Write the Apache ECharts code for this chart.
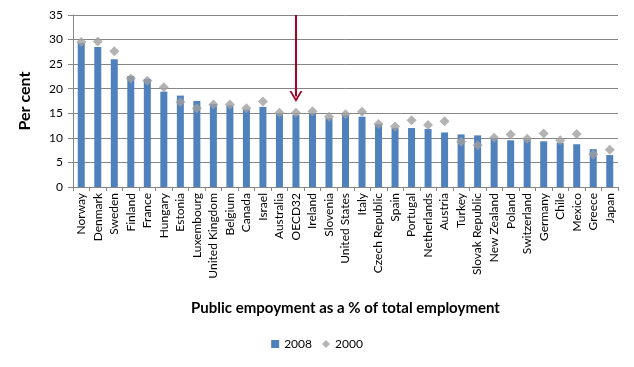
<!DOCTYPE html>
<html>
<head>
<meta charset="utf-8">
<script src="https://cdn.jsdelivr.net/npm/echarts@6/dist/echarts.min.js"></script>
<style>
html,body{margin:0;padding:0;background:#fff;}
#chart{width:634px;height:367px;}
</style>
</head>
<body>
<div id="chart"></div>
<script>
var categories = ["Norway","Denmark","Sweden","Finland","France","Hungary","Estonia","Luxembourg","United Kingdom","Belgium","Canada","Israel","Australia","OECD32","Ireland","Slovenia","United States","Italy","Czech Republic","Spain","Portugal","Netherlands","Austria","Turkey","Slovak Republic","New Zealand","Poland","Switzerland","Germany","Chile","Mexico","Greece","Japan"];
var values2008 = [29.3,28.5,26.0,22.6,22.0,19.4,18.6,17.5,16.9,16.6,15.8,16.3,14.9,14.7,14.9,14.0,14.7,14.3,12.8,12.0,12.0,11.8,11.1,10.7,10.5,10.0,9.5,9.7,9.3,9.0,8.7,7.7,6.5];
var values2000 = [29.5,29.6,27.6,22.1,21.6,20.3,17.3,16.0,16.8,16.8,16.0,17.4,15.1,15.1,15.4,14.3,14.8,15.3,12.8,12.3,13.6,12.6,13.4,9.2,8.5,10.0,10.7,9.8,10.9,9.5,10.8,6.6,7.6];
var yTicks = {min: 0, max: 35, interval: 5};
var highlight = {category: "OECD32", from: 35, to: 18.4};

var chart = echarts.init(document.getElementById('chart'), null, {renderer: 'canvas'});
var font = 'Lato, "Open Sans", sans-serif';
chart.setOption({
  animation: false,
  backgroundColor: '#ffffff',
  textStyle: {fontFamily: font},
  grid: {left: 73, right: 16, top: 15, bottom: 180, containLabel: false},
  legend: {
    bottom: 12, left: 'center',
    itemWidth: 8, itemHeight: 8, itemGap: 10,
    textStyle: {fontSize: 12, color: '#000', fontFamily: font},
    data: [{name: '2008', icon: 'rect'}, {name: '2000', icon: 'diamond'}]
  },
  xAxis: {
    type: 'category',
    data: categories,
    name: 'Public empoyment as a % of total employment',
    nameLocation: 'middle',
    nameGap: 114,
    nameTextStyle: {fontSize: 15, fontWeight: 'bold', color: '#000', fontFamily: font},
    axisLine: {show: true, lineStyle: {color: '#868686', width: 1}},
    axisTick: {show: true, length: 4, lineStyle: {color: '#868686'}},
    axisLabel: {rotate: 90, interval: 0, fontSize: 12, color: '#000', margin: 6, fontFamily: font},
    splitLine: {show: false}
  },
  yAxis: {
    type: 'value',
    min: yTicks.min, max: yTicks.max, interval: yTicks.interval,
    name: 'Per cent',
    nameLocation: 'middle',
    nameRotate: 90,
    nameGap: 40,
    nameTextStyle: {fontSize: 16, fontWeight: 'bold', color: '#000', fontFamily: font},
    axisLine: {show: true, lineStyle: {color: '#868686', width: 1}},
    axisTick: {show: true, length: 5, lineStyle: {color: '#868686'}},
    axisLabel: {fontSize: 12, color: '#000', margin: 10, fontFamily: font},
    splitLine: {show: true, lineStyle: {color: '#868686', width: 1}}
  },
  series: [
    {
      name: '2008',
      type: 'bar',
      data: values2008,
      barWidth: 7,
      itemStyle: {color: '#4F81BD'},
      markLine: {
        silent: true,
        symbol: ['none', 'path://M6,0 L12,10 L10.2,10 L6,3.2 L1.8,10 L0,10 Z'],
        symbolSize: [13, 11],
        label: {show: false},
        lineStyle: {color: '#A50021', width: 2, type: 'solid'},
        data: [[{coord: [highlight.category, highlight.from]}, {coord: [highlight.category, highlight.to]}]]
      }
    },
    {
      name: '2000',
      type: 'scatter',
      data: values2000,
      symbol: 'diamond',
      symbolSize: 10,
      itemStyle: {color: '#A0A0A0'},
      z: 3
    }
  ]
});
</script>
</body>
</html>
